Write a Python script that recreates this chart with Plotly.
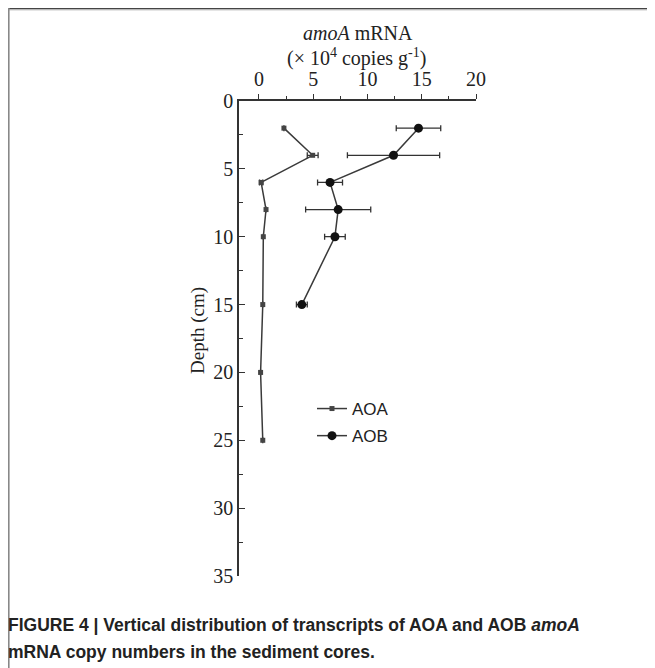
import plotly.graph_objects as go

# ---- data ----
aoa_depth = [2, 4, 6, 8, 10, 15, 20, 25]
aoa_value = [2.3, 4.95, 0.2, 0.65, 0.4, 0.35, 0.15, 0.35]
aoa_err = [0.0, 0.5, 0.15, 0.0, 0.0, 0.0, 0.0, 0.0]

aob_depth = [2, 4, 6, 8, 10, 15]
aob_value = [14.7, 12.4, 6.55, 7.3, 7.0, 3.95]
aob_err = [2.05, 4.25, 1.15, 3.0, 0.95, 0.5]

x_ticks = [0, 5, 10, 15, 20]
y_ticks = [0, 5, 10, 15, 20, 25, 30, 35]

OFF = 8  # page body margin
W, H = 655 - OFF, 668 - OFF
L, R, T, B = 239 - OFF, 476 - OFF, 101 - OFF, 576 - OFF  # plot area (figure px)


def px(x):  # page pixel -> paper x
    return (x - OFF - L) / (R - L)


def py(y):  # page pixel -> paper y
    return (B - (y - OFF)) / (B - T)


fig = go.Figure()
fig.add_trace(go.Scatter(
    x=aoa_value, y=aoa_depth, name="AOA", mode="lines+markers", legendgroup="a",
    line=dict(color="#3a3a3a", width=1.5),
    marker=dict(symbol="square", size=5, color="#444"),
    error_x=dict(type="data", array=aoa_err, color="#333", thickness=1.3, width=3),
))
fig.add_trace(go.Scatter(
    x=aob_value, y=aob_depth, name="AOB", mode="lines+markers", legendgroup="b",
    line=dict(color="#3a3a3a", width=1.5),
    marker=dict(symbol="circle", size=9, color="#111"),
    error_x=dict(type="data", array=aob_err, color="#333", thickness=1.3, width=3),
))

serif = "Liberation Serif, Times New Roman, serif"
sans = "Liberation Sans, Arial, sans-serif"
fig.update_layout(
    width=W, height=H,
    margin=dict(l=L, r=W - R, t=T, b=H - B),
    paper_bgcolor="white", plot_bgcolor="white",
    font=dict(family=serif, size=20, color="#222"),
    showlegend=True,
    legend=dict(x=px(312), y=py(391), xanchor="left", yanchor="top",
                bgcolor="rgba(0,0,0,0)",
                font=dict(family=sans, size=17, color="#222"),
                itemwidth=30, tracegroupgap=2),
    xaxis=dict(side="top", range=[-1.84, 20], tickvals=x_ticks,
               showgrid=False, zeroline=False, showline=True,
               linecolor="#333", linewidth=1.5,
               ticks="outside", ticklen=5, tickwidth=1.3, tickcolor="#333",
               minor=dict(dtick=2.5, tick0=0, ticks="outside", ticklen=3, tickcolor="#333", tickwidth=1.2),
               tickfont=dict(family=serif, size=20)),
    yaxis=dict(range=[35, 0], tickvals=y_ticks,
               showgrid=False, zeroline=False, showline=True,
               linecolor="#333", linewidth=1.5,
               ticks="inside", ticklen=6, tickwidth=1.3, tickcolor="#333",
               minor=dict(dtick=2.5, tick0=0, ticks="inside", ticklen=4, tickcolor="#333", tickwidth=1.2),
               tickfont=dict(family=serif, size=20)),
)

ann = [
    dict(text="<i>amoA</i> mRNA", x=px(358), y=py(33)),
    dict(text="(× 10<sup>4</sup> copies g<sup>-1</sup>)", x=px(356), y=py(58)),
]
for a in ann:
    fig.add_annotation(xref="paper", yref="paper", xanchor="center", yanchor="middle",
                       showarrow=False, font=dict(family=serif, size=20, color="#222"), **a)

fig.add_annotation(xref="paper", yref="paper", x=px(198), y=py(331), text="Depth (cm)",
                   textangle=-90, showarrow=False, xanchor="center", yanchor="middle",
                   font=dict(family=serif, size=19, color="#222"))

cap_font = dict(family=sans, size=17.5, color="#222")
fig.add_annotation(xref="paper", yref="paper", x=px(6), y=py(625), xanchor="left", yanchor="middle",
                   showarrow=False, font=cap_font,
                   text="<b>FIGURE 4 | Vertical distribution of transcripts of AOA and AOB <i>amoA</i></b>")
fig.add_annotation(xref="paper", yref="paper", x=px(6), y=py(652), xanchor="left", yanchor="middle",
                   showarrow=False, font=cap_font,
                   text="<b>mRNA copy numbers in the sediment cores.</b>")

# frame
fig.add_shape(type="line", xref="paper", yref="paper", x0=px(8), x1=px(656), y0=py(8.7), y1=py(8.7),
              line=dict(color="#444", width=1.5))
fig.add_shape(type="line", xref="paper", yref="paper", x0=px(8), x1=px(656), y0=py(10), y1=py(10),
              line=dict(color="#ccc", width=1))
fig.add_shape(type="line", xref="paper", yref="paper", x0=px(8.6), x1=px(8.6), y0=py(8), y1=py(670),
              line=dict(color="#888", width=2))

fig.write_html("out.html")
